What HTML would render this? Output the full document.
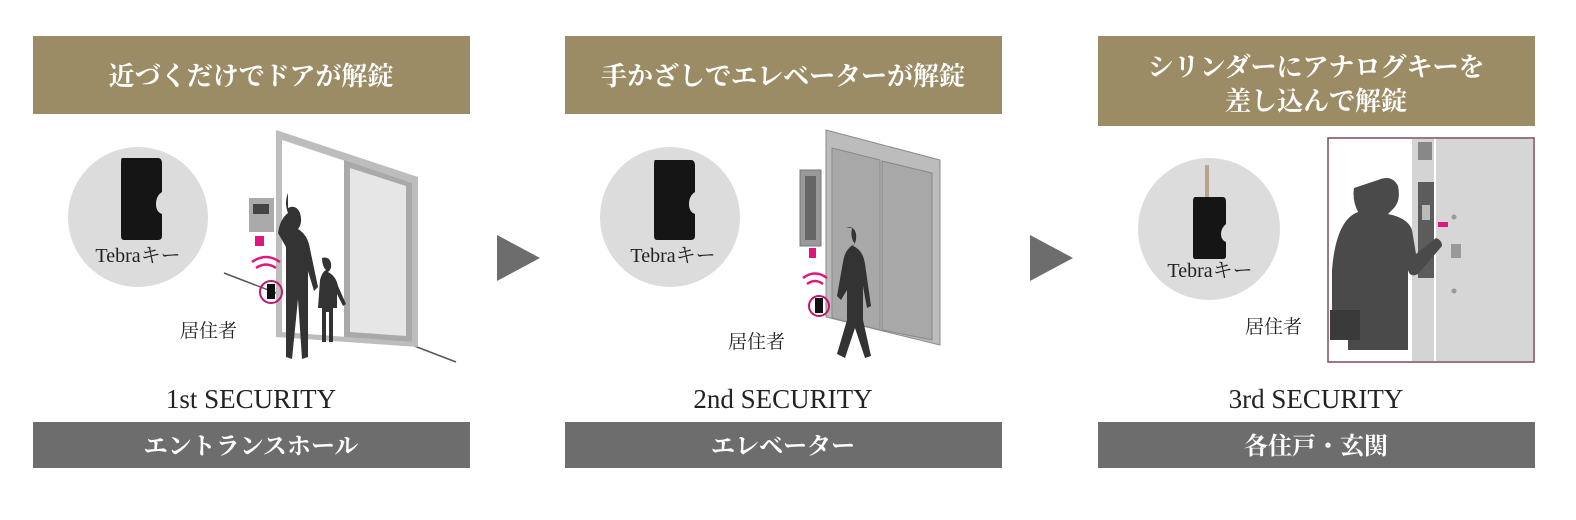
<!DOCTYPE html>
<html><head><meta charset="utf-8"><style>
html,body{margin:0;padding:0;background:#fff;width:1576px;height:520px;overflow:hidden}
svg text{font-family:"Liberation Serif","Noto Serif CJK JP",serif}
</style></head><body>
<svg width="1576" height="520" viewBox="0 0 1576 520" xmlns="http://www.w3.org/2000/svg">
<rect x="33" y="36" width="437" height="78" fill="#9b8c65"/>
<rect x="565" y="36" width="437" height="78" fill="#9b8c65"/>
<rect x="1098" y="36" width="437" height="90" fill="#9b8c65"/>
<g fill="#fff" font-size="26" font-weight="bold" text-anchor="middle">
<text x="251" y="85">近づくだけでドアが解錠</text>
<text x="783" y="85">手かざしでエレベーターが解錠</text>
<text x="1316" y="76">シリンダーにアナログキーを</text>
<text x="1316" y="110">差し込んで解錠</text>
</g>
<rect x="33" y="422" width="437" height="46" fill="#6d6d6d"/>
<rect x="565" y="422" width="437" height="46" fill="#6d6d6d"/>
<rect x="1098" y="422" width="437" height="46" fill="#6d6d6d"/>
<g fill="#fff" font-size="24" font-weight="bold" text-anchor="middle">
<text x="251" y="454">エントランスホール</text>
<text x="783" y="454">エレベーター</text>
<text x="1316" y="454">各住戸・玄関</text>
</g>
<g fill="#222" font-size="27" text-anchor="middle">
<text x="251" y="408">1st SECURITY</text>
<text x="783" y="408">2nd SECURITY</text>
<text x="1316" y="408">3rd SECURITY</text>
</g>
<polygon points="497,235 540,258 497,281" fill="#6d6d6d"/>
<polygon points="1030,235 1073,258 1030,281" fill="#6d6d6d"/>
<circle cx="138" cy="217" r="70" fill="#dcdcdc"/>
<circle cx="670" cy="217" r="70" fill="#dcdcdc"/>
<circle cx="1209" cy="229" r="71" fill="#dcdcdc"/>
<path d="M122,158 h36 q4,0 4,6 v28 q-6,4 -6,12 q0,8 6,10 v22 q0,4 -4,4 h-34 q-3,0 -3,-4 v-72 q0,-6 1,-6z" fill="#151515"/>
<path d="M655,160 h36 q4,0 4,6 v26 q-6,4 -6,12 q0,8 6,10 v22 q0,4 -4,4 h-34 q-3,0 -3,-4 v-70 q0,-6 1,-6z" fill="#151515"/>
<rect x="1205" y="165" width="4" height="32" fill="#b5a58a"/>
<path d="M1195,197 h28 q3,0 3,5 v22 q-5,4 -5,10 q0,6 5,8 v14 q0,3 -3,3 h-28 q-2,0 -2,-3 v-54 q0,-5 2,-5z" fill="#151515"/>
<g fill="#222" font-size="20" text-anchor="middle">
<text x="138" y="262">Tebraキー</text>
<text x="673" y="262">Tebraキー</text>
<text x="1210" y="277">Tebraキー</text>
</g>
<g fill="#222" font-size="19">
<text x="180" y="337">居住者</text>
<text x="728" y="348">居住者</text>
<text x="1245" y="333">居住者</text>
</g>
<line x1="224" y1="273" x2="456" y2="362" stroke="#555" stroke-width="1.5"/>
<polygon points="276,130 418,177 418,347 276,337" fill="#bdbdbd"/>
<polygon points="282,140 412,183 412,342 282,332" fill="#fff"/>
<polygon points="344,160 412,183 412,342 344,337" fill="#a9a9a9"/>
<polygon points="350,168 406,186 406,336 350,332" fill="#e6e6e6"/>
<rect x="249" y="198" width="25" height="34" fill="#aaa"/>
<rect x="253" y="204" width="16" height="10" fill="#444"/>
<rect x="255" y="236" width="9" height="10" fill="#e0157f"/>
<path d="M252,262 q14,-10 28,0 M256,268 q10,-7 20,0" stroke="#e0157f" stroke-width="2.5" fill="none"/>
<circle cx="271" cy="292" r="11" fill="none" stroke="#c01470" stroke-width="2"/>
<rect x="267" y="284" width="8" height="15" fill="#111"/>
<path d="M288,208 q8,-4 12,5 q3,10 -2,16 q10,6 12,20 l8,38 l-4,4 l-6,-20 v86 l-6,2 l-4,-60 l-6,60 l-6,-2 v-110 l-8,-14 q2,-14 10,-20 q-4,-10 0,-20z" fill="#333"/>
<path d="M322,258 q7,-2 9,5 q1,6 -3,9 q8,4 10,14 l8,18 l-3,2 l-6,-12 v14 h-4 v34 h-4 v-30 h-3 v30 h-4 v-34 h-4 l2,-28 q2,-8 6,-10 q-4,-4 -4,-12z" fill="#333"/>
<polygon points="826,130 940,160 940,345 826,317" fill="#bcbcbc" stroke="#8a8a8a"/>
<polygon points="832,148 880,160 880,330 832,318" fill="#a8a8a8" stroke="#888"/>
<polygon points="882,161 932,173 932,340 882,330" fill="#a8a8a8" stroke="#888"/>
<rect x="800" y="170" width="21" height="76" fill="#999" stroke="#777"/>
<rect x="805" y="176" width="11" height="64" fill="#666"/>
<rect x="809" y="248" width="7" height="10" fill="#e0157f"/>
<path d="M803,278 q12,-9 24,0 M807,284 q8,-6 16,0" stroke="#e0157f" stroke-width="2.5" fill="none"/>
<circle cx="819" cy="306" r="10" fill="none" stroke="#c01470" stroke-width="2"/>
<rect x="815" y="298" width="8" height="15" fill="#111"/>
<path d="M846,228 q8,-3 10,6 q1,8 -3,12 q10,4 12,18 l6,42 l-4,2 l-4,-22 v34 l8,36 l-6,2 l-10,-30 l-10,30 l-8,-4 l10,-34 v-30 l-6,10 l-4,-4 l6,-34 q2,-14 12,-18 q-5,-6 -3,-16z" fill="#333"/>
<rect x="1328" y="138" width="206" height="224" fill="#fff" stroke="#7a4a5a" stroke-width="1.5"/>
<rect x="1412" y="139" width="22" height="222" fill="#d4d4d4"/>
<rect x="1436" y="139" width="97" height="222" fill="#d6d6d6"/>
<rect x="1418" y="142" width="14" height="18" fill="#888"/>
<rect x="1418" y="182" width="16" height="96" fill="#5c5c5c"/>
<rect x="1422" y="205" width="8" height="15" fill="#bbb"/>
<rect x="1451" y="244" width="10" height="14" fill="#999"/>
<circle cx="1454" cy="217" r="2.5" fill="#999"/>
<circle cx="1454" cy="291" r="2.5" fill="#999"/>
<path d="M1378,180 q14,-6 20,6 q3,14 -4,22 l-6,6 q20,4 24,16 l4,24 l20,-16 q6,2 6,8 l-24,28 q-8,4 -10,-4 v80 h-60 v-40 l-16,0 v-40 q4,-50 26,-58 q-6,-12 -4,-24z" fill="#4a4a4a"/>
<rect x="1330" y="310" width="30" height="30" fill="#3a3a3a"/>
<rect x="1438" y="222" width="10" height="5" fill="#e0157f"/>
</svg>
</body></html>
